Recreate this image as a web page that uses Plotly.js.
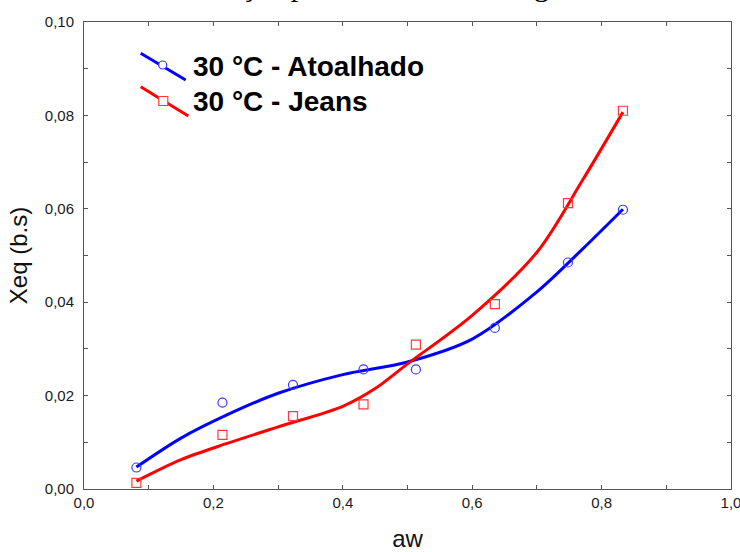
<!DOCTYPE html>
<html>
<head>
<meta charset="utf-8">
<script src="https://cdn.plot.ly/plotly-3.0.1.min.js"></script>
<style>html,body{margin:0;padding:0;background:#fff;}#chart{width:740px;height:552px;}</style>
</head>
<body>
<div id="chart"></div>
<script>
// Measured points
const awPoints = [0.081, 0.214, 0.323, 0.432, 0.513, 0.635, 0.748, 0.833];
const atoalhadoXeq = [0.0046, 0.0185, 0.0223, 0.0256, 0.0256, 0.0345, 0.0485, 0.0598];
const jeansXeq = [0.0013, 0.0116, 0.0156, 0.0181, 0.0309, 0.0396, 0.0612, 0.0810];

// Fitted curves
const atoalhadoCurveAw = [0.081, 0.15, 0.22, 0.30, 0.40, 0.50, 0.60, 0.70, 0.77, 0.833];
const atoalhadoCurveXeq = [0.0047, 0.0109, 0.0158, 0.0205, 0.0245, 0.0272, 0.0321, 0.0422, 0.0513, 0.0599];
const jeansCurveAw = [0.081, 0.15, 0.22, 0.30, 0.40, 0.45, 0.50, 0.60, 0.70, 0.77, 0.833];
const jeansCurveXeq = [0.0017, 0.0063, 0.0097, 0.0133, 0.0177, 0.0215, 0.0268, 0.0372, 0.0507, 0.0660, 0.0807];

const seriesNames = ['30 °C - Atoalhado', '30 °C - Jeans'];
const xTitle = 'aw';
const yTitle = 'Xeq (b.s)';
const topTitle = 'Isotermas de dessorção para os tecidos de algodão';

const BLUE = '#0000ff';
const RED = '#ff0000';

const traces = [
  {x: atoalhadoCurveAw, y: atoalhadoCurveXeq, mode: 'lines', line: {color: BLUE, width: 3, shape: 'spline', smoothing: 0.9}, hoverinfo: 'skip'},
  {x: jeansCurveAw, y: jeansCurveXeq, mode: 'lines', line: {color: RED, width: 3, shape: 'spline', smoothing: 0.9}, hoverinfo: 'skip'},
  {x: awPoints, y: atoalhadoXeq, mode: 'markers', name: seriesNames[0], marker: {symbol: 'circle-open', size: 9, color: '#3a3aff', line: {width: 1.2}}},
  {x: awPoints, y: jeansXeq, mode: 'markers', name: seriesNames[1], marker: {symbol: 'square-open', size: 9, color: '#ff3a3a', line: {width: 1.2}}}
];

const axisFont = {family: 'Liberation Sans, Arial, sans-serif', size: 15, color: '#1a1a1a'};
const titleFont = {family: 'Liberation Sans, Arial, sans-serif', size: 24, color: '#111'};

// legend glyph geometry (paper coords)
function px(v){return (v-84)/647;}
function py(v){return (489-v)/467;}

const layout = {
  width: 740, height: 552,
  margin: {l: 84, r: 9, t: 22, b: 63},
  paper_bgcolor: '#fff', plot_bgcolor: '#fff',
  showlegend: false,
  separators: ',.',
  xaxis: {
    range: [0, 1], dtick: 0.2, tick0: 0, tickformat: '.1f',
    showgrid: false, zeroline: false,
    showline: true, linecolor: '#555', linewidth: 1, mirror: 'ticks',
    ticks: 'inside', ticklen: 4, tickcolor: '#555',
    minor: {dtick: 0.1, ticks: 'inside', ticklen: 4, tickcolor: '#555', showgrid: false},
    tickfont: axisFont, ticklabeloverflow: 'allow',
    title: {text: xTitle, font: titleFont, standoff: 20}
  },
  yaxis: {
    range: [0, 0.1], dtick: 0.02, tick0: 0, tickformat: '.2f',
    showgrid: false, zeroline: false,
    showline: true, linecolor: '#555', linewidth: 1, mirror: 'ticks',
    ticks: 'inside', ticklen: 4, tickcolor: '#555',
    minor: {dtick: 0.01, ticks: 'inside', ticklen: 4, tickcolor: '#555', showgrid: false},
    tickfont: axisFont, ticklabelstandoff: 6, ticklabeloverflow: 'allow',
    title: {text: yTitle, font: titleFont, standoff: 10}
  },
  shapes: [
    {type: 'line', xref: 'paper', yref: 'paper', x0: px(140.7), y0: py(53.3), x1: px(185.7), y1: py(80), line: {color: BLUE, width: 3}},
    {type: 'circle', xref: 'paper', yref: 'paper', xsizemode: 'pixel', ysizemode: 'pixel', xanchor: px(162.7), yanchor: py(65), x0: -4, x1: 4, y0: -4, y1: 4, fillcolor: '#fff', line: {color: '#3a3aff', width: 1.2}},
    {type: 'line', xref: 'paper', yref: 'paper', x0: px(140.7), y0: py(86.7), x1: px(188.3), y1: py(116), line: {color: RED, width: 3}},
    {type: 'rect', xref: 'paper', yref: 'paper', xsizemode: 'pixel', ysizemode: 'pixel', xanchor: px(163.3), yanchor: py(101), x0: -4.5, x1: 4.5, y0: -4.5, y1: 4.5, fillcolor: '#fff', line: {color: '#ff3a3a', width: 1.2}}
  ],
  annotations: [
    {xref: 'paper', yref: 'paper', x: px(191), y: py(66), xanchor: 'left', yanchor: 'middle', showarrow: false, text: seriesNames[0], font: {family: 'Liberation Sans, Arial, sans-serif', size: 28, color: '#000', weight: 'bold'}},
    {xref: 'paper', yref: 'paper', x: px(191), y: py(102), xanchor: 'left', yanchor: 'middle', showarrow: false, text: seriesNames[1], font: {family: 'Liberation Sans, Arial, sans-serif', size: 28, color: '#000', weight: 'bold'}},
    {xref: 'paper', yref: 'paper', x: px(3), y: py(-15), xanchor: 'left', yanchor: 'middle', showarrow: false, text: topTitle, font: {family: 'Liberation Serif, Times New Roman, serif', size: 30, color: '#000'}}
  ]
};

Plotly.newPlot('chart', traces, layout, {displayModeBar: false, staticPlot: true});
</script>
</body>
</html>
